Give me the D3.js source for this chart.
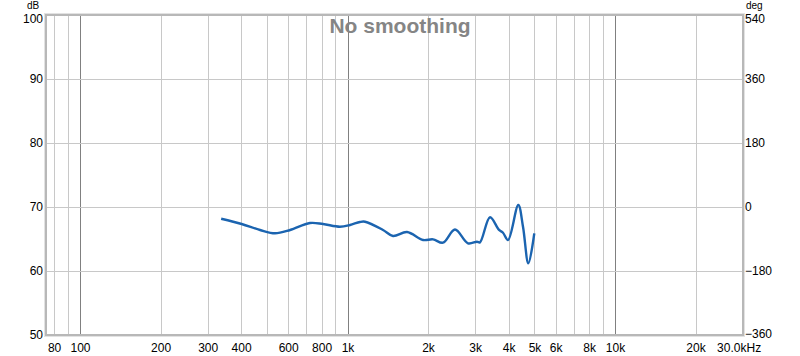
<!DOCTYPE html>
<html><head><meta charset="utf-8">
<script src="https://cdn.jsdelivr.net/npm/d3@7"></script>
<style>body{margin:0;background:#fff}svg{display:block}text{font-family:"Liberation Sans",Arial,sans-serif}</style>
</head><body><svg id="c" width="800" height="356"></svg>
<script>
const freqs = [337,402,471,536,610,724,810,937,1022,1113,1163,1358,1479,1669,1916,2088,2275,2522,2820,3049,3128,3411,3684,3813,3981,4350,4530,4744,4992];
const dbValues = [68.17,67.34,66.41,65.89,66.41,67.5,67.34,66.92,67.19,67.66,67.7,66.41,65.47,66.09,64.84,64.95,64.42,66.48,64.33,64.58,64.48,68.39,66.41,65.98,64.84,70.31,66.92,61.2,65.89];
const xTickValues = [80,100,200,300,400,600,800,1000,2000,3000,4000,5000,6000,8000,10000,20000,30000];
const xTickLabels = ["80","100","200","300","400","600","800","1k","2k","3k","4k","5k","6k","8k","10k","20k","30.0kHz"];
const gridFreqs = [80,90,100,200,300,400,500,600,700,800,900,1000,2000,3000,4000,5000,6000,7000,8000,9000,10000,20000];
const majorFreqs = [100,1000,10000];
const dbTicks = [50,60,70,80,90,100];
const degTicks = [-360,-180,0,180,360,540];
const title = "No smoothing";

const svg = d3.select("#c");
const L=46,R=743,T=15,B=335;
const x = d3.scaleLog().domain([74.6,30100]).range([L,R]);
const y = d3.scaleLinear().domain([50,100]).range([B,T]);
const yDeg = d3.scaleLinear().domain([-360,540]).range([B,T]);

// grid
svg.append("g").selectAll("line").data(gridFreqs).join("line")
  .attr("x1",d=>Math.round(x(d))+0.5).attr("x2",d=>Math.round(x(d))+0.5).attr("y1",T).attr("y2",B)
  .attr("stroke",d=>majorFreqs.includes(d)?"#808080":"#c8c8c8").attr("stroke-width",1);
svg.append("g").selectAll("line").data(dbTicks.slice(1,-1)).join("line")
  .attr("x1",L).attr("x2",R).attr("y1",d=>Math.round(y(d))+0.5).attr("y2",d=>Math.round(y(d))+0.5)
  .attr("stroke","#c8c8c8");

// frame
svg.append("rect").attr("x",L-1.5).attr("y",T-1.5).attr("width",R-L+3).attr("height",B-T+3)
  .attr("fill","none").attr("stroke","#e2e2e2").attr("stroke-width",1);
svg.append("rect").attr("x",L).attr("y",T).attr("width",R-L).attr("height",B-T)
  .attr("fill","none").attr("stroke","#b8b8b8").attr("stroke-width",2);

// title
svg.append("text").attr("x",400).attr("y",33).attr("text-anchor","middle")
  .attr("font-size",21).attr("font-weight","bold").attr("fill","#858585").text(title);

// left axis
const yAxis = d3.axisLeft(y).tickValues(dbTicks).tickSize(0).tickPadding(3);
const gl = svg.append("g").attr("transform",`translate(${L},0)`).call(yAxis);
gl.select(".domain").remove();
gl.selectAll("text").attr("font-size",12).attr("fill","#000").attr("font-family","Liberation Sans, Arial, sans-serif");
gl.selectAll(".tick").filter(d=>d===100).select("text").attr("dy","0.6em");
svg.append("text").attr("x",33).attr("y",9.1).attr("text-anchor","middle").attr("font-size",10).text("dB");

// right axis
const yAxisR = d3.axisRight(yDeg).tickValues(degTicks).tickSize(0).tickPadding(2);
const gr = svg.append("g").attr("transform",`translate(${R},0)`).call(yAxisR);
gr.select(".domain").remove();
gr.selectAll("text").attr("font-size",12).attr("fill","#000").attr("font-family","Liberation Sans, Arial, sans-serif");
gr.selectAll(".tick").filter(d=>d===-360).select("text").attr("dy","0.2em");
gr.selectAll(".tick").filter(d=>d===540).select("text").attr("dy","0.6em");
svg.append("text").attr("x",746).attr("y",9.1).attr("font-size",10).text("deg");

// bottom axis
const xAxis = d3.axisBottom(x).tickValues(xTickValues).tickFormat((d,i)=>xTickLabels[i]).tickSize(0).tickPadding(8);
const gb = svg.append("g").attr("transform",`translate(0,${B})`).call(xAxis);
gb.select(".domain").remove();
gb.selectAll("text").attr("font-size",12).attr("fill","#000").attr("font-family","Liberation Sans, Arial, sans-serif");
gb.selectAll(".tick").filter(d=>d===30000).select("text").attr("text-anchor","start").attr("dx",-26);

// curve
const data = freqs.map((f,i)=>[f,dbValues[i]]);
svg.append("path").datum(data)
  .attr("d",d3.line().x(d=>x(d[0])).y(d=>y(d[1])).curve(d3.curveCatmullRom.alpha(0.5)))
  .attr("fill","none").attr("stroke","#1b64b0").attr("stroke-width",2.4).attr("stroke-linejoin","round");
</script></body></html>
